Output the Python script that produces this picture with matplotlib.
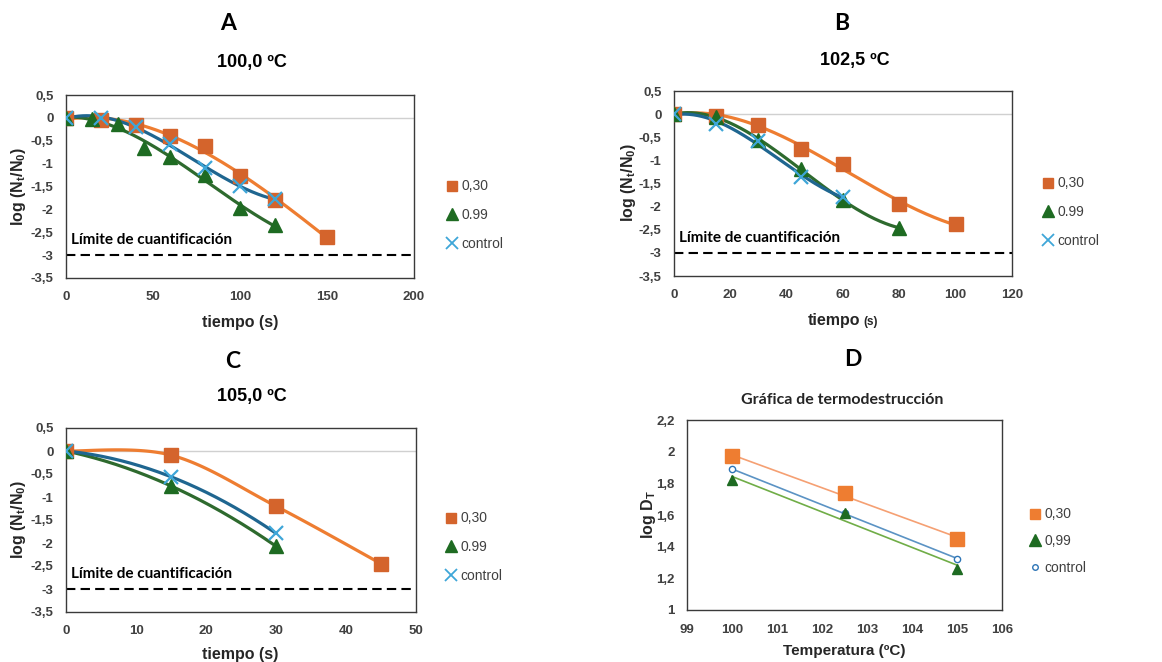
import numpy as np
import matplotlib
matplotlib.use('Agg')
import matplotlib.pyplot as plt
from matplotlib.lines import Line2D
from matplotlib.ticker import FuncFormatter

W, H = 1162, 662
plt.rcParams['font.family'] = ['Liberation Sans', 'DejaVu Sans']
plt.rcParams['mathtext.fontset'] = 'custom'
plt.rcParams['mathtext.rm'] = 'Liberation Sans'
plt.rcParams['mathtext.bf'] = 'Liberation Sans:bold'
plt.rcParams['mathtext.it'] = 'Liberation Sans:italic'

# ---------------- data ----------------
tA_030 = [0, 20, 40, 60, 80, 100, 120, 150]
yA_030 = [0, -0.05, -0.15, -0.40, -0.62, -1.27, -1.80, -2.60]
tA_099 = [0, 15, 30, 45, 60, 80, 100, 120]
yA_099 = [0, -0.02, -0.13, -0.66, -0.85, -1.25, -1.98, -2.35]
tA_ctl = [0, 20, 40, 60, 80, 100, 120]
yA_ctl = [0, -0.01, -0.19, -0.58, -1.10, -1.49, -1.78]

tB_030 = [0, 15, 30, 45, 60, 80, 100]
yB_030 = [0, -0.03, -0.23, -0.76, -1.08, -1.95, -2.38]
tB_099 = [0, 15, 30, 45, 60, 80]
yB_099 = [0, -0.06, -0.55, -1.19, -1.86, -2.46]
tB_ctl = [0, 15, 30, 45, 60]
yB_ctl = [0, -0.21, -0.58, -1.36, -1.79]

tC_030 = [0, 15, 30, 45]
yC_030 = [0, -0.09, -1.20, -2.45]
tC_099 = [0, 15, 30]
yC_099 = [0, -0.76, -2.07]
tC_ctl = [0, 15, 30]
yC_ctl = [0, -0.56, -1.79]

temps = [100, 102.5, 105]
logD_030 = [1.97, 1.74, 1.45]
logD_099 = [1.82, 1.61, 1.26]
logD_ctl = [1.89, 1.61, 1.325]

labels_kin = ['0,30', '0.99', 'control']
labels_D = ['0,30', '0,99', 'control']
limit_value = -3
limit_label = 'Límite de cuantificación'

# ---------------- styles ----------------
C_SQ = '#D4642C'
C_SQ_LINE = '#EE7D31'
C_TRI = '#1E6B22'
C_TRI_LINE = '#2E6A2E'
C_X = '#3EA6D8'
C_X_LINE = '#1F6690'
TXT = '#404040'

fig = plt.figure(figsize=(W / 100, H / 100), dpi=100)


def frac_rect(l, t, r, b):
    return [l / W, 1 - b / H, (r - l) / W, (b - t) / H]


def ftext(x, y, s, **kw):
    kw.setdefault('ha', 'center')
    kw.setdefault('va', 'center')
    return fig.text(x / W, 1 - y / H, s, **kw)


def comma_fmt(v, p):
    s = f'{v:g}'
    return s.replace('.', ',')


def style_axes(ax, xpad=9.5, ypad=9):
    for sp in ax.spines.values():
        sp.set_color('#3a3a3a')
        sp.set_linewidth(1.0)
    ax.tick_params(length=0, labelsize=9.5, labelcolor=TXT)
    ax.tick_params(axis='x', pad=xpad)
    ax.tick_params(axis='y', pad=ypad)
    ax.yaxis.set_major_formatter(FuncFormatter(comma_fmt))
    ax.xaxis.set_major_formatter(FuncFormatter(comma_fmt))
    for lab in ax.get_xticklabels() + ax.get_yticklabels():
        lab.set_fontweight('bold')


def smooth_curve(t, y, n=40):
    # Excel-style smoothed line (Bezier through the points)
    P = np.column_stack([t, y]).astype(float)
    m = len(P)
    out = []
    s = np.linspace(0, 1, n)[:, None]
    for i in range(m - 1):
        p0 = P[max(i - 1, 0)]
        p1 = P[i]
        p2 = P[i + 1]
        p3 = P[min(i + 2, m - 1)]
        b1 = p1 + (p2 - p0) / 6
        b2 = p2 - (p3 - p1) / 6
        seg = ((1 - s) ** 3) * p1 + 3 * ((1 - s) ** 2) * s * b1 + 3 * (1 - s) * s ** 2 * b2 + s ** 3 * p2
        out.append(seg if i == 0 else seg[1:])
    c = np.vstack(out)
    return c[:, 0], c[:, 1]


def fit_curve(t, y):
    if len(t) == 4:
        return smooth_curve(t, y)
    deg = 3 if len(t) >= 5 else 2
    c = np.polyfit(t, y, deg)
    xs = np.linspace(min(t), max(t), 200)
    return xs, np.polyval(c, xs)


def kinetic_panel(rect, series, xmax, xstep, leg_x, leg_y):
    ax = fig.add_axes(frac_rect(*rect))
    ax.set_xlim(0, xmax)
    ax.set_ylim(-3.5, 0.5)
    ax.set_yticks(np.arange(-3.5, 0.51, 0.5))
    ax.set_xticks(np.arange(0, xmax + 0.1, xstep))
    ax.axhline(0, color='#d0d0d0', lw=1.0, zorder=1)
    ax.axhline(limit_value, color='black', lw=1.5, dashes=(4.5, 2.5), zorder=2)
    (t1, y1), (t2, y2), (t3, y3) = series
    for (t, y, lc) in [(t1, y1, C_SQ_LINE), (t2, y2, C_TRI_LINE), (t3, y3, C_X_LINE)]:
        xs, ys = fit_curve(t, y)
        ax.plot(xs, ys, color=lc, lw=2.3, zorder=3, solid_capstyle='round')
    ax.plot(t1, y1, ls='none', marker='s', ms=10, color=C_SQ, zorder=4)
    ax.plot(t2, y2, ls='none', marker='^', ms=9.5, color=C_TRI, zorder=5)
    ax.plot(t3, y3, ls='none', marker='x', ms=10, mew=1.6, color=C_X, zorder=6)
    ax.text(xmax * 0.015, -2.68, limit_label, family=['Lato', 'DejaVu Sans'],
            fontweight='bold', fontsize=11, ha='left', va='center', color='black')
    style_axes(ax)
    handles = [Line2D([], [], ls='none', marker='s', ms=7, color=C_SQ),
               Line2D([], [], ls='none', marker='^', ms=8, color=C_TRI),
               Line2D([], [], ls='none', marker='x', ms=8, mew=1.3, color=C_X)]
    leg = ax.legend(handles, labels_kin, loc='center left',
                    bbox_to_anchor=(leg_x / W, 1 - leg_y / H),
                    bbox_transform=fig.transFigure, frameon=False,
                    fontsize=10, handlelength=0.8, handletextpad=0.3,
                    labelspacing=1.05, borderpad=0, borderaxespad=0)
    for tx in leg.get_texts():
        tx.set_color(TXT)
    return ax


YLAB = r'log (N$_{\mathbf{t}}$/N$_{\mathbf{0}}$)'

# ---- Panel A ----
kinetic_panel((66, 95, 414, 278),
              [(tA_030, yA_030), (tA_099, yA_099), (tA_ctl, yA_ctl)],
              200, 50, 446, 215)
ftext(228, 24, 'A', family=['Lato', 'DejaVu Sans'], fontweight='bold', fontsize=16.5)
ftext(252, 62, '100,0 ºC', fontweight='bold', fontsize=13)
ftext(18, 187, YLAB, rotation=90, fontweight='bold', fontsize=11.5, color='#262626')
ftext(240, 322, 'tiempo (s)', fontweight='bold', fontsize=11.5, color='#262626')

# ---- Panel B ----
kinetic_panel((674, 91, 1012, 276),
              [(tB_030, yB_030), (tB_099, yB_099), (tB_ctl, yB_ctl)],
              120, 20, 1042, 212)
ftext(842, 24, 'B', family=['Lato', 'DejaVu Sans'], fontweight='bold', fontsize=16.5)
ftext(855, 60, '102,5 ºC', fontweight='bold', fontsize=13)
ftext(628, 183, YLAB, rotation=90, fontweight='bold', fontsize=11.5, color='#262626')
ftext(860, 320, 'tiempo', fontweight='bold', fontsize=11.5, color='#262626', ha='right')
ftext(863, 322, '(s)', fontweight='bold', fontsize=8.5, color='#262626', ha='left')

# ---- Panel C ----
kinetic_panel((66, 428, 416, 612),
              [(tC_030, yC_030), (tC_099, yC_099), (tC_ctl, yC_ctl)],
              50, 10, 445, 547)
ftext(233, 362, 'C', family=['Lato', 'DejaVu Sans'], fontweight='bold', fontsize=16.5)
ftext(252, 396, '105,0 ºC', fontweight='bold', fontsize=13)
ftext(18, 520, YLAB, rotation=90, fontweight='bold', fontsize=11.5, color='#262626')
ftext(240, 654, 'tiempo (s)', fontweight='bold', fontsize=11.5, color='#262626')

# ---- Panel D ----
axD = fig.add_axes(frac_rect(687, 420, 1002, 610))
axD.set_xlim(99, 106)
axD.set_ylim(1, 2.2)
axD.set_xticks(np.arange(99, 106.1, 1))
axD.set_yticks(np.arange(1, 2.21, 0.2))
for vals, lc in [(logD_030, '#F5A073'), (logD_ctl, '#5B93C4'), (logD_099, '#70AD47')]:
    c = np.polyfit(temps, vals, 1)
    xs = np.array([min(temps), max(temps)])
    axD.plot(xs, np.polyval(c, xs), color=lc, lw=1.2, zorder=3)
axD.plot(temps, logD_030, ls='none', marker='s', ms=9.5, color='#EE7D31', zorder=4)
axD.plot(temps, logD_ctl, ls='none', marker='o', ms=4.5, mfc='white', mec='#2E75B6',
         mew=1.0, zorder=5)
axD.plot(temps, logD_099, ls='none', marker='^', ms=7, color=C_TRI, zorder=6)
style_axes(axD, xpad=10, ypad=9)
hD = [Line2D([], [], ls='none', marker='s', ms=7, color='#EE7D31'),
      Line2D([], [], ls='none', marker='^', ms=8, color=C_TRI),
      Line2D([], [], ls='none', marker='o', ms=4, mfc='white', mec='#2E75B6', mew=1.0)]
legD = axD.legend(hD, labels_D, loc='center left',
                  bbox_to_anchor=(1029 / W, 1 - 541 / H),
                  bbox_transform=fig.transFigure, frameon=False,
                  fontsize=10, handlelength=0.8, handletextpad=0.3,
                  labelspacing=0.9, borderpad=0, borderaxespad=0)
for tx in legD.get_texts():
    tx.set_color(TXT)
ftext(853, 360, 'D', family=['Lato', 'DejaVu Sans'], fontweight='bold', fontsize=16.5)
ftext(842, 400, 'Gráfica de termodestrucción', family=['Lato', 'DejaVu Sans'],
      fontweight='bold', fontsize=11.5, color='#262626')
ftext(648, 515, r'log D$_{\mathbf{T}}$', rotation=90, fontweight='bold', fontsize=11.5,
      color='#262626')
ftext(844, 651, 'Temperatura (ºC)', fontweight='bold', fontsize=11, color='#262626')

fig.savefig('out.png', dpi=100)
